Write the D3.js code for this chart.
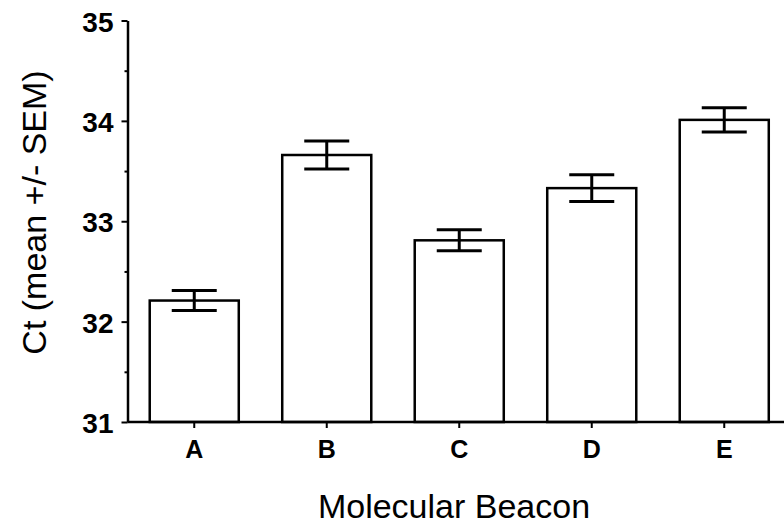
<!DOCTYPE html>
<html><head><meta charset="utf-8">
<script src="https://cdn.jsdelivr.net/npm/d3@7"></script>
<style>
html,body{margin:0;padding:0;background:#fff;}
svg{display:block;font-family:"Liberation Sans",Arial,sans-serif;}
</style></head>
<body>
<svg id="chart" width="784" height="527"></svg>
<script>
const categories = ["A","B","C","D","E"];
const means = [32.21, 33.66, 32.81, 33.33, 34.01];
const sems = [0.10, 0.14, 0.105, 0.133, 0.12];
const yMajorTicks = [31,32,33,34,35];
const yMinorTicks = [31.5,32.5,33.5,34.5];
const xTitle = "Molecular Beacon";
const yTitle = "Ct (mean +/- SEM)";

const svg = d3.select("#chart");
const x = d3.scaleBand().domain(categories).range([128, 790.5]).paddingInner(0.328).paddingOuter(0.164);
const y = d3.scaleLinear().domain([31, 35]).range([422, 20.5]);
const axisX = 127.5;

// bars
svg.append("g").selectAll("rect").data(categories).join("rect")
  .attr("x", d => x(d))
  .attr("width", x.bandwidth())
  .attr("y", (d,i) => y(means[i]))
  .attr("height", (d,i) => y(31) - y(means[i]))
  .attr("fill", "#fff").attr("stroke", "#000").attr("stroke-width", 2.5);

// error bars
const capW = 45;
const eb = svg.append("g").attr("stroke", "#000").attr("stroke-width", 3);
categories.forEach((c,i) => {
  const cx = x(c) + x.bandwidth()/2;
  const top = y(means[i] + sems[i]), bot = y(means[i] - sems[i]);
  eb.append("line").attr("x1", cx).attr("x2", cx).attr("y1", top).attr("y2", bot);
  eb.append("line").attr("x1", cx - capW/2).attr("x2", cx + capW/2).attr("y1", top).attr("y2", top);
  eb.append("line").attr("x1", cx - capW/2).attr("x2", cx + capW/2).attr("y1", bot).attr("y2", bot);
});

// y axis minor ticks
svg.append("g").attr("transform", `translate(${axisX},0)`)
  .call(d3.axisLeft(y).tickValues(yMinorTicks).tickSize(3).tickSizeOuter(0).tickFormat(""))
  .call(g => g.select(".domain").remove())
  .call(g => g.selectAll("line").attr("stroke-width", 2));

// y axis major
const ya = svg.append("g").attr("transform", `translate(${axisX},0)`)
  .call(d3.axisLeft(y).tickValues(yMajorTicks).tickSize(6).tickSizeOuter(0).tickPadding(8).tickFormat(d3.format("d")));
ya.select(".domain").attr("stroke-width", 2.5);
ya.selectAll("line").attr("stroke-width", 2);
ya.selectAll("text").attr("font-size", 28).attr("font-weight", "bold").attr("font-family", "Liberation Sans, Arial, sans-serif").attr("fill", "#000").attr("dy", "0.38em");

// x axis
const xa = svg.append("g").attr("transform", `translate(0,${y(31)})`)
  .call(d3.axisBottom(x).tickSize(6).tickSizeOuter(0).tickPadding(12));
xa.select(".domain").attr("stroke-width", 2.5).attr("d", `M${axisX},0H790`);
xa.selectAll("line").attr("stroke-width", 2);
xa.selectAll("text").attr("font-size", 25).attr("font-weight", "bold").attr("font-family", "Liberation Sans, Arial, sans-serif").attr("fill", "#000");

// titles
svg.append("text").attr("x", 454).attr("y", 518).attr("text-anchor", "middle")
  .attr("font-size", 34).text(xTitle);
svg.append("text").attr("transform", "translate(46,212.5) rotate(-90)").attr("text-anchor", "middle")
  .attr("font-size", 34).text(yTitle);
</script>
</body></html>
